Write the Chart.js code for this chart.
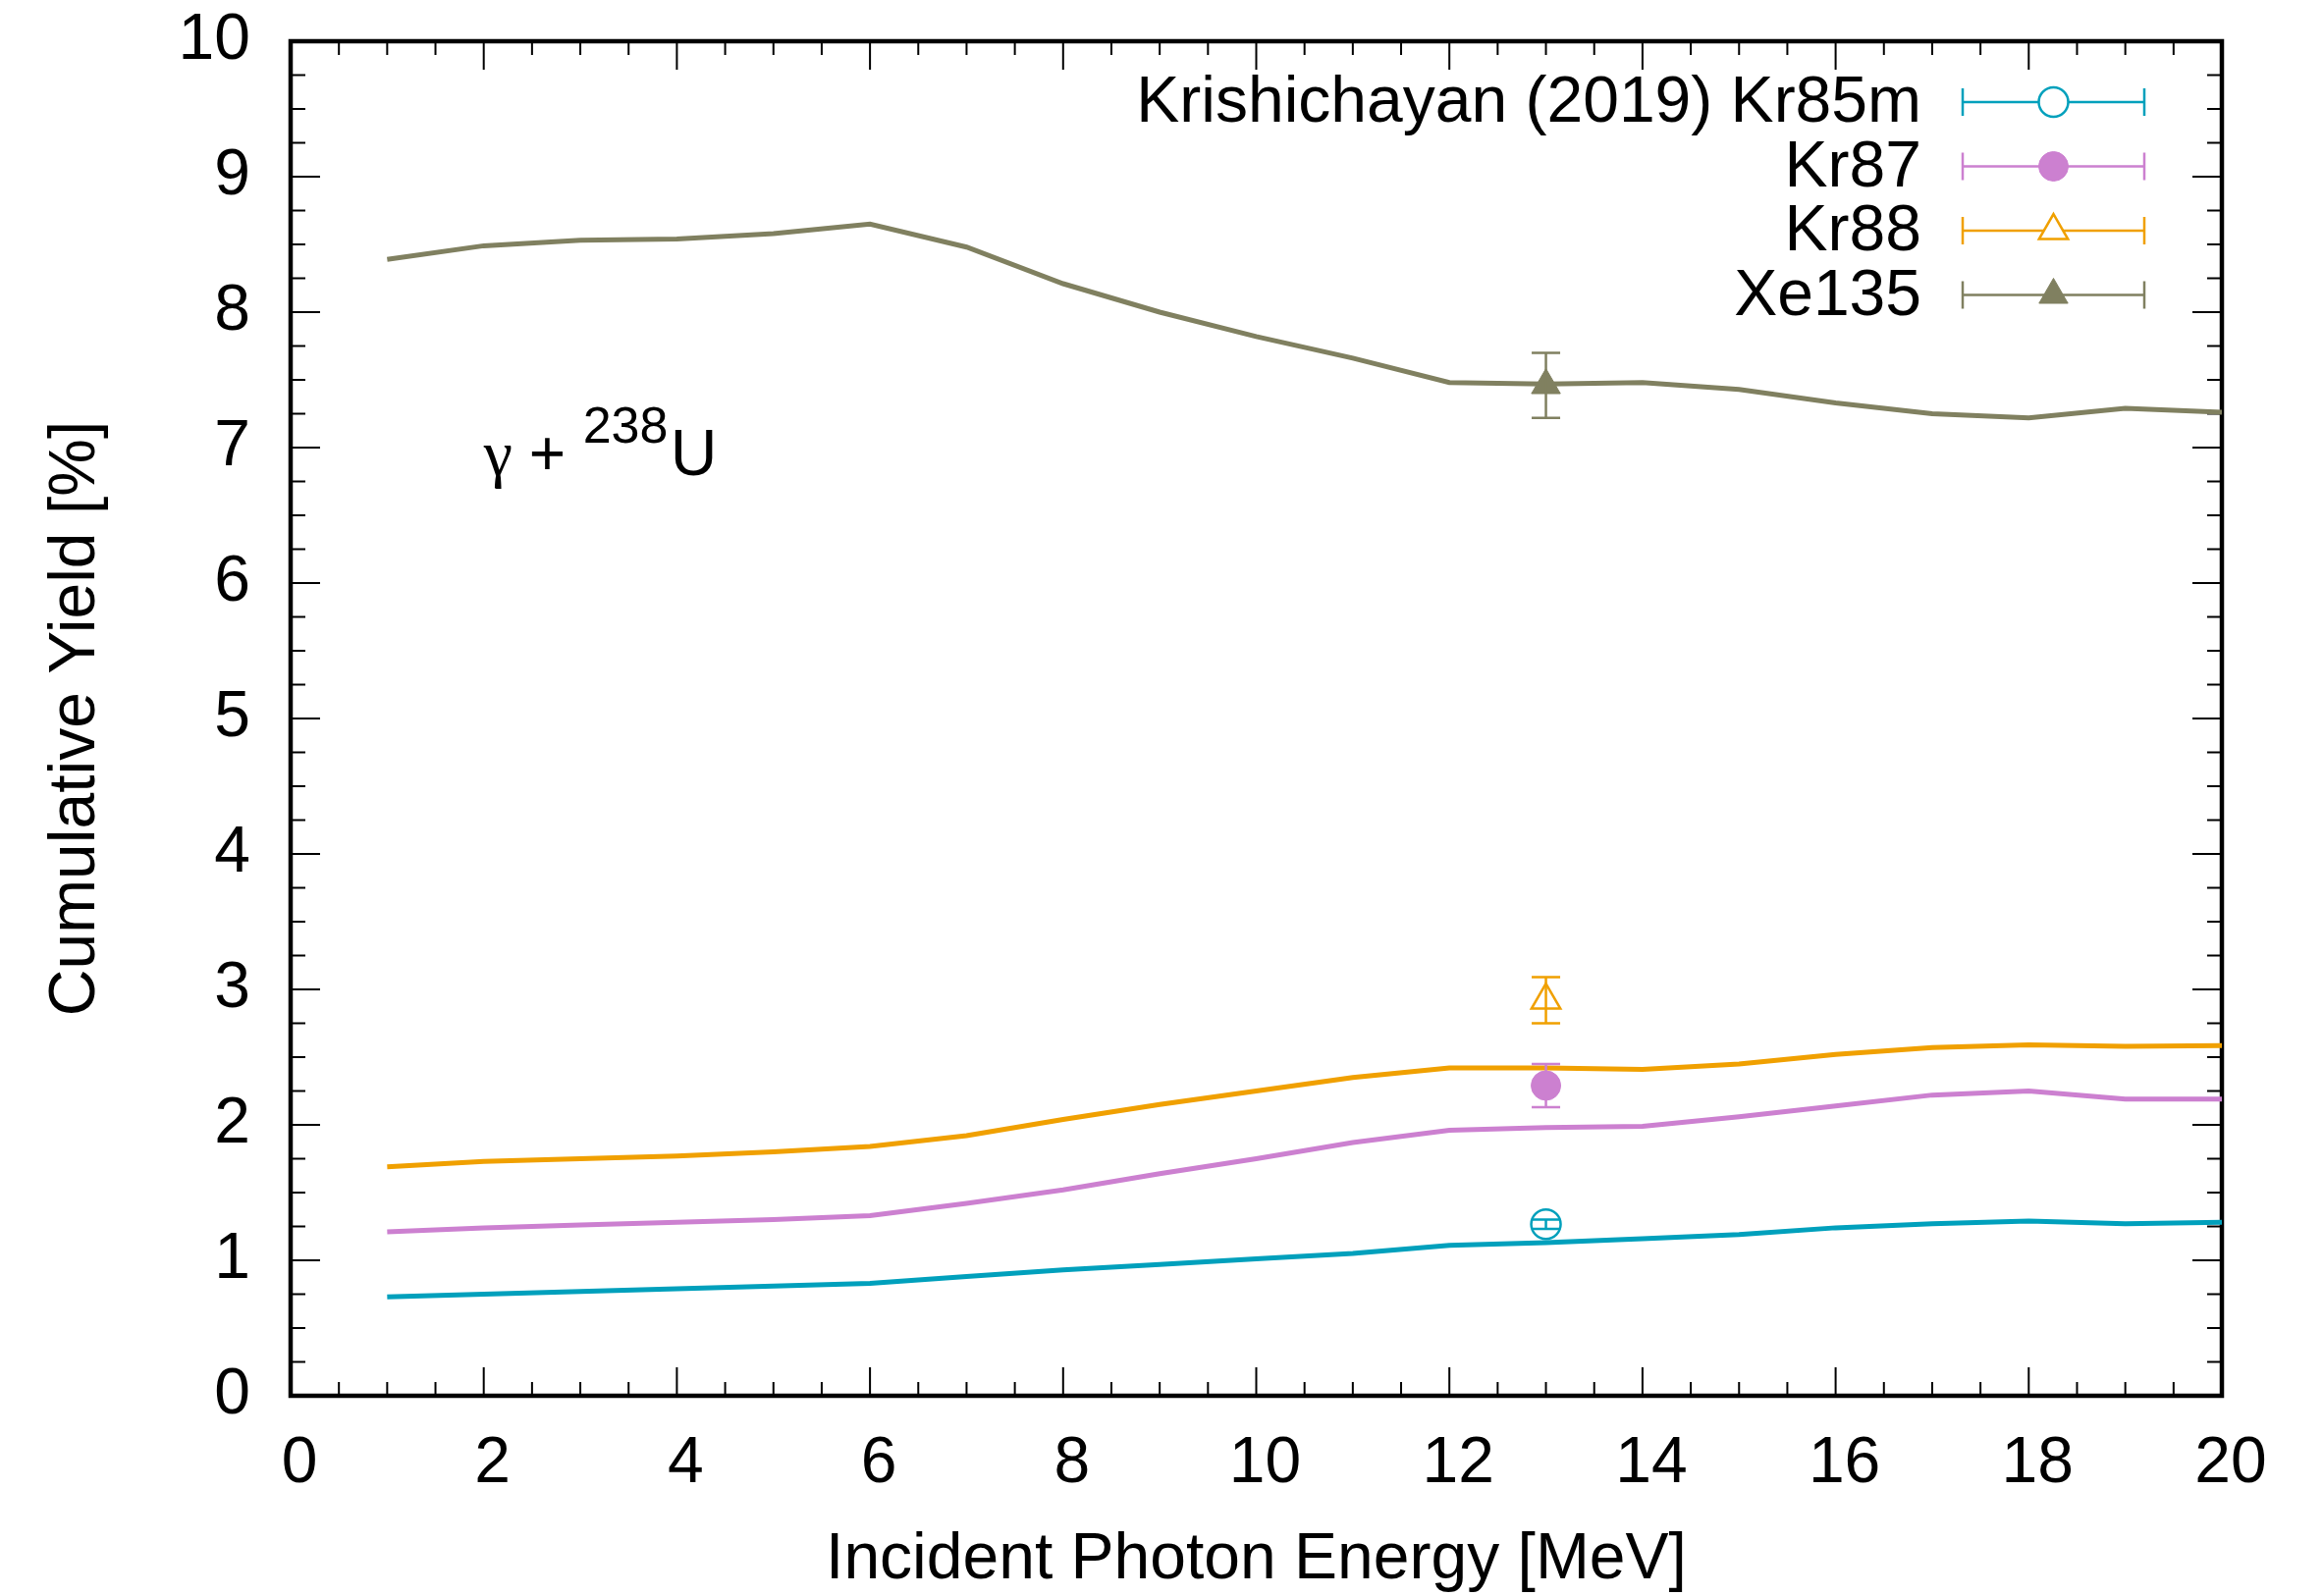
<!DOCTYPE html>
<html><head><meta charset="utf-8">
<script src="https://cdn.jsdelivr.net/npm/chart.js@4.4.1/dist/chart.umd.min.js"></script>
<style>html,body{margin:0;padding:0;background:#fff}#wrap{width:2366px;height:1626px}</style>
</head><body><div id="wrap"><canvas id="c" width="2366" height="1626"></canvas></div>
<script>
// ---- data ----
const energies = [1,2,3,4,5,6,7,8,9,10,11,12,13,14,15,16,17,18,19,20];
const kr85mModel = [0.73,0.75,0.77,0.79,0.81,0.83,0.88,0.93,0.97,1.01,1.05,1.11,1.13,1.16,1.19,1.24,1.27,1.29,1.27,1.28];
const kr87Model  = [1.21,1.24,1.26,1.28,1.30,1.33,1.42,1.52,1.64,1.75,1.87,1.96,1.98,1.99,2.06,2.14,2.22,2.25,2.19,2.19];
const kr88Model  = [1.69,1.73,1.75,1.77,1.80,1.84,1.92,2.04,2.15,2.25,2.35,2.42,2.42,2.41,2.45,2.52,2.57,2.59,2.58,2.585];
const xe135Model = [8.39,8.49,8.53,8.54,8.58,8.65,8.48,8.21,8.00,7.82,7.66,7.48,7.47,7.48,7.43,7.33,7.25,7.22,7.29,7.26];

const expEnergy = [13];
const kr85mExp = [1.266], kr85mErr = [0.035];
const kr87Exp  = [2.29],  kr87Err  = [0.16];
const kr88Exp  = [2.92],  kr88Err  = [0.17];
const xe135Exp = [7.46],  xe135Err = [0.24];

const legendLabels = ['Krishichayan (2019) Kr85m','Kr87','Kr88','Xe135'];
const xTitle = 'Incident Photon Energy [MeV]';
const yTitle = 'Cumulative Yield [%]';
const xRange = [0,20], xMajor = 2, xMinor = 0.5;
const yRange = [0,10], yMajor = 1, yMinor = 0.25;
const annotPos = [2.0, 6.8];

// ---- styles ----
const C_TEAL = '#00a0bc', C_PURP = '#cc80d0', C_ORNG = '#f0a000', C_OLIV = '#808060';
const FONT = "'Liberation Sans', Arial, Helvetica, sans-serif";

const pts = (xs, ys) => xs.map((x,i)=>({x, y: ys[i]}));
function lineDs(data, color){
  return {type:'line', data: pts(energies, data), borderColor: color, borderWidth: 5,
          pointRadius: 0, tension: 0, fill: false, isModel: true};
}
function expDs(label, ys, errs, color, style, filled, radius){
  return {type:'scatter', label, data: pts(expEnergy, ys), errors: errs,
          borderColor: color, backgroundColor: filled ? color : '#ffffff',
          pointStyle: style, pointRadius: radius, pointHoverRadius: radius,
          pointBorderWidth: filled ? 1 : 2.5, isExp: true, filled};
}

const framePlugin = {
  id: 'frame',
  beforeDatasetsDraw(chart){
    const {ctx, chartArea: a, scales: {x, y}} = chart;
    ctx.save();
    ctx.strokeStyle = '#000';
    ctx.lineWidth = 2;
    const nx = Math.round((xRange[1]-xRange[0])/xMinor);
    for (let i=0;i<=nx;i++){
      const v = xRange[0] + i*xMinor;
      const major = Math.abs(v/xMajor - Math.round(v/xMajor)) < 1e-6;
      const len = major ? 29 : 14;
      const px = x.getPixelForValue(v);
      ctx.beginPath();
      ctx.moveTo(px, a.bottom); ctx.lineTo(px, a.bottom - len);
      ctx.moveTo(px, a.top); ctx.lineTo(px, a.top + len);
      ctx.stroke();
    }
    const ny = Math.round((yRange[1]-yRange[0])/yMinor);
    for (let i=0;i<=ny;i++){
      const v = yRange[0] + i*yMinor;
      const major = Math.abs(v/yMajor - Math.round(v/yMajor)) < 1e-6;
      const len = major ? 30 : 15;
      const py = y.getPixelForValue(v);
      ctx.beginPath();
      ctx.moveTo(a.left, py); ctx.lineTo(a.left + len, py);
      ctx.moveTo(a.right, py); ctx.lineTo(a.right - len, py);
      ctx.stroke();
    }
    ctx.lineWidth = 4.5;
    ctx.strokeRect(a.left, a.top, a.right - a.left, a.bottom - a.top);
    ctx.restore();
  },
  afterDatasetsDraw(chart){
    const {ctx, scales: {x, y}} = chart;
    ctx.save();
    chart.data.datasets.forEach((ds, di) => {
      if (!ds.isExp) return;
      const meta = chart.getDatasetMeta(di);
      ds.data.forEach((p, i) => {
        const px = meta.data[i].x;
        const yt = y.getPixelForValue(p.y + ds.errors[i]);
        const yb = y.getPixelForValue(p.y - ds.errors[i]);
        ctx.strokeStyle = ds.borderColor; ctx.lineWidth = 2.5;
        ctx.beginPath();
        ctx.moveTo(px, yt); ctx.lineTo(px, yb);
        ctx.moveTo(px-14.5, yt); ctx.lineTo(px+14.5, yt);
        ctx.moveTo(px-14.5, yb); ctx.lineTo(px+14.5, yb);
        ctx.stroke();
      });
    });
    const ax = x.getPixelForValue(annotPos[0]);
    const ay = y.getPixelForValue(annotPos[1]);
    ctx.fillStyle = '#000';
    ctx.textBaseline = 'alphabetic';
    ctx.textAlign = 'left';
    ctx.font = "66px 'Liberation Serif', 'DejaVu Serif', serif";
    ctx.fillText('\u03B3', ax, ay);
    ctx.font = '64px ' + FONT;
    ctx.fillText('+', ax + 46, ay);
    ctx.font = '52px ' + FONT;
    ctx.fillText('238', ax + 101, ay - 33);
    ctx.font = '66px ' + FONT;
    ctx.fillText('U', ax + 190, ay);
    ctx.restore();
  },
  afterDraw(chart){
    const {ctx, chartArea: a} = chart;
    ctx.save();
    const exps = chart.data.datasets.filter(d => d.isExp);
    const textRight = a.right - 306, lx0 = a.right - 264, lx1 = a.right - 79;
    const lxm = (lx0 + lx1) / 2;
    exps.forEach((ds, i) => {
      const ry = a.top + 62 + i * 65.5;
      ctx.fillStyle = '#000';
      ctx.font = '66px ' + FONT;
      ctx.textAlign = 'right';
      ctx.textBaseline = 'middle';
      ctx.fillText(ds.label, textRight, ry + 2);
      ctx.strokeStyle = ds.borderColor; ctx.lineWidth = 2.5;
      ctx.beginPath();
      ctx.moveTo(lx0, ry); ctx.lineTo(lx1, ry);
      ctx.moveTo(lx0, ry-14); ctx.lineTo(lx0, ry+14);
      ctx.moveTo(lx1, ry-14); ctx.lineTo(lx1, ry+14);
      ctx.stroke();
      ctx.fillStyle = ds.backgroundColor;
      ctx.strokeStyle = ds.borderColor;
      ctx.lineWidth = ds.pointBorderWidth;
      Chart.helpers.drawPoint(ctx, {pointStyle: ds.pointStyle, rotation: 0,
        radius: ds.pointRadius, borderWidth: ds.pointBorderWidth}, lxm, ry);
    });
    ctx.restore();
  }
};

new Chart(document.getElementById('c'), {
  data: {
    datasets: [
      lineDs(kr85mModel, C_TEAL),
      lineDs(kr87Model, C_PURP),
      lineDs(kr88Model, C_ORNG),
      lineDs(xe135Model, C_OLIV),
      expDs(legendLabels[0], kr85mExp, kr85mErr, C_TEAL, 'circle', false, 15),
      expDs(legendLabels[1], kr87Exp, kr87Err, C_PURP, 'circle', true, 15),
      expDs(legendLabels[2], kr88Exp, kr88Err, C_ORNG, 'triangle', false, 17),
      expDs(legendLabels[3], xe135Exp, xe135Err, C_OLIV, 'triangle', true, 17)
    ]
  },
  options: {
    responsive: false, animation: false, devicePixelRatio: 1,
    layout: {padding: {top: 42, right: 103, left: 0, bottom: 0}},
    plugins: {legend: {display: false}, tooltip: {enabled: false}},
    scales: {
      x: {type: 'linear', min: xRange[0], max: xRange[1],
          grid: {display: false, drawTicks: false}, border: {display: false},
          ticks: {stepSize: xMajor, font: {family: FONT, size: 66}, color: '#000', padding: 30, maxRotation: 0, labelOffset: 9},
          title: {display: true, text: xTitle, font: {family: FONT, size: 66, lineHeight: 1.1}, color: '#000', padding: {top: 0, bottom: 0}},
          afterFit(s){ s.height = 204; s.paddingLeft = 0; s.paddingRight = 0; s.paddingTop = 0; s.paddingBottom = 0; }},
      y: {type: 'linear', min: yRange[0], max: yRange[1],
          grid: {display: false, drawTicks: false}, border: {display: false},
          ticks: {stepSize: yMajor, font: {family: FONT, size: 66}, color: '#000', padding: 41},
          title: {display: true, text: yTitle, font: {family: FONT, size: 66}, color: '#000', padding: {top: 38, bottom: 0}},
          afterFit(s){ s.width = 296; s.paddingLeft = 0; s.paddingRight = 0; s.paddingTop = 0; s.paddingBottom = 0; }}
    }
  },
  plugins: [framePlugin]
});
</script></body></html>
